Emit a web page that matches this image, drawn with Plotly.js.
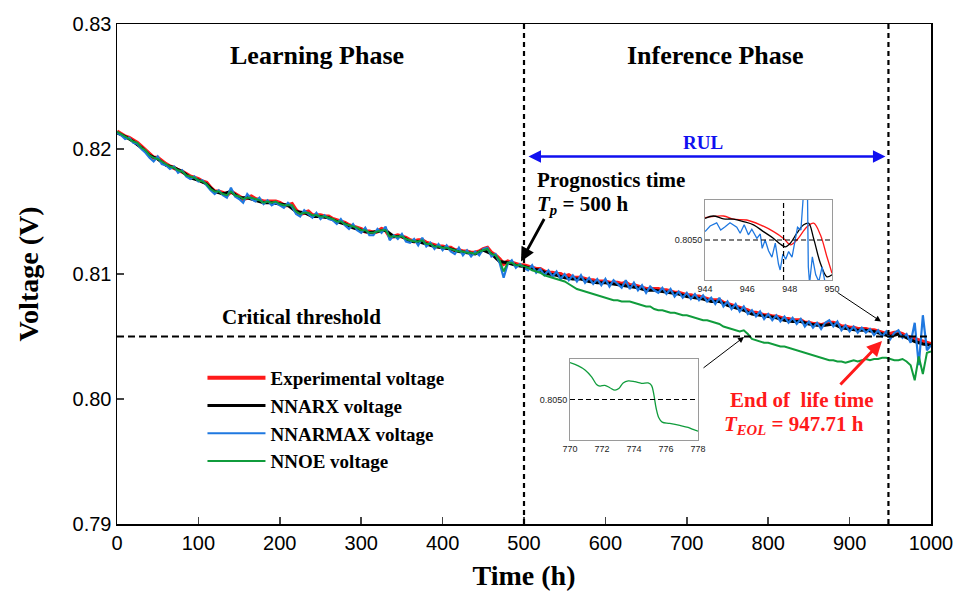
<!DOCTYPE html>
<html><head><meta charset="utf-8">
<script src="https://cdn.plot.ly/plotly-3.0.1.min.js"></script>
<style>html,body{margin:0;padding:0;background:#fff}</style>
</head><body>
<div id="chart" style="width:962px;height:591px"></div>
<script>
// Main series sampled every 5 h (NNARX every 10 h) from 0 to 1000 h
const seriesNames = ["Experimental voltage", "NNARX voltage", "NNARMAX voltage", "NNOE voltage"];
const seriesColors = ["#ff1a1a", "#000000", "#1f78e0", "#109c3c"];

const experimental = [
.8214,.8212,.8210,.8209,.8207,.8205,.8202,.8199,.8196,.8193,.8193,.8190,.8188,.8186,.8185,.8183,.8182,.8180,.8178,.8177,
.8176,.8174,.8173,.8169,.8166,.8166,.8165,.8163,.8166,.8164,.8162,.8160,.8161,.8162,.8160,.8159,.8158,.8158,.8158,.8158,
.8157,.8155,.8155,.8156,.8151,.8148,.8149,.8150,.8147,.8147,.8147,.8146,.8146,.8144,.8143,.8142,.8141,.8139,.8138,.8137,
.8136,.8134,.8134,.8133,.8134,.8136,.8135,.8130,.8130,.8131,.8130,.8129,.8127,.8126,.8127,.8127,.8125,.8124,.8123,.8122,
.8122,.8121,.8121,.8119,.8119,.8118,.8118,.8117,.8117,.8118,.8120,.8121,.8117,.8115,.8112,.8108,.8110,.8109,.8108,.8107,
.8107,.8106,.8105,.8104,.8104,.8102,.8101,.8101,.8100,.8100,.8098,.8099,.8097,.8097,.8097,.8096,.8095,.8095,.8094,.8094,
.8094,.8093,.8093,.8093,.8092,.8093,.8091,.8091,.8090,.8089,.8088,.8088,.8088,.8088,.8087,.8087,.8086,.8085,.8085,.8084,
.8083,.8083,.8082,.8082,.8081,.8080,.8079,.8079,.8079,.8077,.8076,.8075,.8074,.8073,.8072,.8071,.8069,.8069,.8068,.8067,
.8067,.8066,.8066,.8065,.8064,.8064,.8063,.8063,.8063,.8061,.8061,.8060,.8060,.8059,.8060,.8061,.8061,.8060,.8058,.8058,
.8057,.8057,.8056,.8056,.8056,.8055,.8055,.8054,.8053,.8052,.8052,.8053,.8053,.8052,.8050,.8049,.8048,.8047,.8046,.8045,
.8044];

const nnarx = [
.8213,.8210,.8206,.8201,.8195,.8192,.8187,.8185,.8182,.8177,.8175,.8172,.8166,.8164,.8166,.8161,.8161,.8159,.8157,.8157,
.8156,.8155,.8150,.8149,.8146,.8146,.8145,.8142,.8140,.8137,.8135,.8133,.8134,.8135,.8130,.8130,.8126,.8126,.8124,.8122,
.8121,.8120,.8118,.8117,.8116,.8119,.8116,.8110,.8109,.8107,.8106,.8104,.8103,.8100,.8099,.8097,.8096,.8096,.8094,.8093,
.8093,.8092,.8091,.8090,.8089,.8087,.8087,.8086,.8085,.8084,.8082,.8081,.8080,.8078,.8078,.8075,.8073,.8071,.8068,.8067,
.8066,.8065,.8063,.8062,.8062,.8060,.8059,.8059,.8060,.8057,.8056,.8055,.8055,.8054,.8052,.8050,.8052,.8049,.8046,.8044,
.8043];

const nnarmax = [
.8213,.8211,.8208,.8209,.8205,.8204,.8200,.8197,.8193,.8190,.8194,.8188,.8187,.8184,.8186,.8181,.8183,.8178,.8176,.8178,
.8174,.8175,.8171,.8167,.8164,.8167,.8163,.8161,.8169,.8162,.8160,.8157,.8164,.8160,.8158,.8161,.8156,.8159,.8155,.8157,
.8155,.8153,.8157,.8154,.8148,.8146,.8151,.8148,.8145,.8149,.8144,.8147,.8144,.8143,.8140,.8144,.8139,.8136,.8140,.8135,
.8133,.8137,.8131,.8131,.8136,.8133,.8138,.8127,.8131,.8128,.8132,.8126,.8125,.8128,.8123,.8129,.8122,.8125,.8120,.8124,
.8119,.8123,.8118,.8116,.8121,.8115,.8119,.8114,.8118,.8115,.8120,.8121,.8114,.8116,.8109,.8097,.8108,.8111,.8105,.8108,
.8105,.8103,.8107,.8101,.8104,.8099,.8103,.8098,.8102,.8096,.8100,.8095,.8099,.8094,.8099,.8093,.8097,.8092,.8096,.8091,
.8096,.8090,.8095,.8092,.8089,.8095,.8088,.8093,.8087,.8091,.8085,.8090,.8087,.8085,.8089,.8084,.8088,.8082,.8086,.8081,
.8085,.8080,.8084,.8079,.8083,.8078,.8081,.8076,.8081,.8074,.8078,.8072,.8076,.8070,.8074,.8068,.8071,.8066,.8070,.8064,
.8068,.8063,.8067,.8062,.8066,.8061,.8065,.8060,.8064,.8058,.8062,.8057,.8061,.8056,.8061,.8063,.8058,.8062,.8055,.8059,
.8054,.8058,.8053,.8057,.8053,.8056,.8051,.8055,.8050,.8054,.8048,.8053,.8055,.8049,.8052,.8045,.8061,.8027,.8067,.8039,
.8043];

const nnoe = [
.8214,.8212,.8210,.8208,.8206,.8205,.8201,.8199,.8195,.8193,.8192,.8190,.8188,.8186,.8185,.8183,.8182,.8179,.8178,.8177,
.8175,.8174,.8172,.8168,.8166,.8166,.8164,.8163,.8166,.8163,.8162,.8160,.8161,.8161,.8160,.8159,.8157,.8158,.8157,.8158,
.8156,.8155,.8155,.8155,.8150,.8148,.8149,.8149,.8147,.8147,.8146,.8146,.8145,.8144,.8142,.8142,.8140,.8139,.8138,.8137,
.8135,.8135,.8133,.8133,.8134,.8135,.8135,.8130,.8130,.8130,.8130,.8128,.8127,.8126,.8126,.8127,.8124,.8124,.8122,.8122,
.8121,.8121,.8120,.8119,.8118,.8118,.8117,.8117,.8116,.8118,.8119,.8120,.8116,.8115,.8111,.8102,.8109,.8109,.8107,.8107,
.8106,.8105,.8103,.8102,.8101,.8099,.8098,.8097,.8096,.8095,.8094,.8092,.8090,.8088,.8087,.8086,.8085,.8084,.8083,.8082,
.8081,.8080,.8079,.8079,.8078,.8078,.8078,.8077,.8076,.8075,.8074,.8074,.8072,.8071,.8071,.8070,.8069,.8069,.8068,.8067,
.8067,.8066,.8065,.8064,.8063,.8063,.8062,.8061,.8060,.8058,.8057,.8056,.8055,.8054,.8055,.8052,.8048,.8047,.8046,.8045,
.8045,.8044,.8043,.8042,.8042,.8041,.8040,.8039,.8038,.8037,.8036,.8035,.8034,.8033,.8032,.8031,.8031,.8030,.8030,.8029,
.8030,.8031,.8030,.8031,.8032,.8031,.8032,.8032,.8033,.8033,.8032,.8031,.8031,.8032,.8030,.8027,.8015,.8034,.8020,.8037,
.8038];

// Zoom inset 1 (944-950 h)
const inset1ExpT = [944.00,944.87,945.34,945.97,946.61,947.24,947.71,948.03,948.34,948.82,949.13,949.45,949.76,950.00];
const inset1ExpV = [.80556,.80560,.80552,.80550,.80538,.80521,.80504,.80488,.80500,.80533,.80542,.80513,.80458,.80417];
const inset1ArxT = [944.00,944.39,944.87,945.34,945.82,946.29,946.76,947.24,947.55,947.79,948.03,948.34,948.66,948.89,949.13,949.45,949.76,950.00];
const inset1ArxV = [.80554,.80560,.80553,.80552,.80546,.80538,.80521,.80504,.80490,.80483,.80492,.80517,.80538,.80542,.80504,.80442,.80408,.80413];
const inset1ArmaxT = [944.00,944.24,944.55,944.74,944.95,945.18,945.50,945.66,945.85,946.05,946.21,946.45,946.61,946.70,946.84,947.00,947.16,947.32,947.47,947.55,947.68,947.81,947.95,948.11,948.26,948.37,948.53,948.66,948.72,948.78,948.83,948.88,948.94,949.07,949.23,949.38,949.53,949.68];
const inset1ArmaxV = [.80521,.80535,.80543,.80525,.80533,.80543,.80532,.80517,.80538,.80513,.80527,.80504,.80515,.80479,.80500,.80473,.80457,.80492,.80440,.80425,.80465,.80452,.80471,.80457,.80500,.80532,.80525,.80600,.80667,.80617,.80667,.80433,.80392,.80458,.80413,.80396,.80433,.80392];

// Zoom inset 2 (770-778 h)
const inset2OeT = [770.00,770.52,770.94,771.35,771.66,771.87,772.18,772.49,772.81,773.05,773.32,773.64,774.05,774.47,774.88,775.09,775.24,775.38,775.55,775.76,776.23,776.86,777.38,777.69,778.00];
const inset2OeV = [.80591,.80583,.80573,.80556,.80537,.80533,.80535,.80529,.80523,.80527,.80541,.80546,.80544,.80540,.80541,.80535,.80512,.80479,.80455,.80444,.80441,.80436,.80431,.80426,.80422];

const xTicks = [0,100,200,300,400,500,600,700,800,900,1000];
const yTicks = [0.79,0.80,0.81,0.82,0.83];
const threshold = 0.8050, tp = 500, teol = 947.71;

const serif = "Liberation Serif, Times New Roman, serif";
const sans = "Liberation Sans, Arial, sans-serif";

const traces = [
  {y: experimental, x0: 0, dx: 5, name: seriesNames[0], line: {color: seriesColors[0], width: 4}, legendgroup: 'a'},
  {y: nnarx, x0: 0, dx: 10, name: seriesNames[1], line: {color: seriesColors[1], width: 3}, legendgroup: 'b'},
  {y: nnarmax, x0: 0, dx: 5, name: seriesNames[2], line: {color: seriesColors[2], width: 2.2}, legendgroup: 'c'},
  {y: nnoe, x0: 0, dx: 5, name: seriesNames[3], line: {color: seriesColors[3], width: 2}, legendgroup: 'd'},
  {x: inset1ExpT, y: inset1ExpV, xaxis: 'x2', yaxis: 'y2', showlegend: false, line: {color: seriesColors[0], width: 1.3, shape: 'spline'}},
  {x: inset1ArxT, y: inset1ArxV, xaxis: 'x2', yaxis: 'y2', showlegend: false, line: {color: seriesColors[1], width: 1.3, shape: 'spline'}},
  {x: inset1ArmaxT, y: inset1ArmaxV, xaxis: 'x2', yaxis: 'y2', showlegend: false, line: {color: seriesColors[2], width: 1.3}},
  {x: inset2OeT, y: inset2OeV, xaxis: 'x3', yaxis: 'y3', showlegend: false, line: {color: seriesColors[3], width: 1.3, shape: 'spline'}}
].map(t => Object.assign({type: 'scatter', mode: 'lines', hoverinfo: 'skip'}, t));

const insetAxis = (extra) => Object.assign({
  showline: true, mirror: true, linecolor: '#9a9a9a', linewidth: 1,
  showgrid: false, zeroline: false, ticks: '', tickfont: {family: sans, size: 9, color: '#222'}
}, extra);

const layout = {
  width: 962, height: 591,
  margin: {l: 117, r: 31, t: 24, b: 67},
  paper_bgcolor: '#fff', plot_bgcolor: '#fff',
  showlegend: true,
  legend: {x: 0.105, y: 0.33, xanchor: 'left', yanchor: 'top', bgcolor: 'rgba(0,0,0,0)',
           font: {family: serif, size: 19, weight: 'bold', color: '#000'}, itemwidth: 58, tracegroupgap: 0},
  xaxis: {range: [0, 1000], tickvals: xTicks, ticks: 'inside', ticklen: 7, tickwidth: 1.5,
          showline: true, mirror: true, linecolor: '#000', linewidth: 1.5, showgrid: false, zeroline: false,
          tickfont: {family: sans, size: 20, color: '#000'},
          title: {text: 'Time (h)', font: {family: serif, size: 28, weight: 'bold', color: '#000'}, standoff: 13}},
  yaxis: {range: [0.79, 0.83], tickvals: yTicks, tickformat: '.2f', ticks: 'inside', ticklen: 7, tickwidth: 1.5,
          showline: true, mirror: true, linecolor: '#000', linewidth: 1.5, showgrid: false, zeroline: false,
          tickfont: {family: sans, size: 20, color: '#000'},
          title: {text: 'Voltage (V)', font: {family: serif, size: 28, weight: 'bold', color: '#000'}, standoff: 26}},
  xaxis2: insetAxis({domain: [0.7224, 0.8784], anchor: 'y2', range: [944, 950], tickvals: [944, 946, 948, 950]}),
  yaxis2: insetAxis({domain: [0.488, 0.648], anchor: 'x2', range: [0.8040, 0.8060], tickvals: [threshold], ticktext: ['0.8050']}),
  xaxis3: insetAxis({domain: [0.5565, 0.7138], anchor: 'y3', range: [770, 778], tickvals: [770, 772, 774, 776, 778]}),
  yaxis3: insetAxis({domain: [0.168, 0.33], anchor: 'x3', range: [0.8040, 0.8060], tickvals: [threshold], ticktext: ['0.8050']}),
  shapes: [
    {type: 'line', xref: 'x', yref: 'y', x0: tp, x1: tp, y0: 0.79, y1: 0.83, line: {color: '#000', width: 2.2, dash: '5px,4px'}},
    {type: 'line', xref: 'x', yref: 'y', x0: teol, x1: teol, y0: 0.79, y1: 0.83, line: {color: '#000', width: 2.2, dash: '5px,4px'}},
    {type: 'line', xref: 'x', yref: 'y', x0: 0, x1: 1000, y0: threshold, y1: threshold, line: {color: '#000', width: 2, dash: '7px,4px'}},
    {type: 'line', xref: 'x2', yref: 'y2', x0: 944, x1: 950, y0: threshold, y1: threshold, line: {color: '#000', width: 1.2, dash: '5px,3px'}},
    {type: 'line', xref: 'x2', yref: 'y2', x0: teol, x1: teol, y0: 0.8040, y1: 0.8060, line: {color: '#000', width: 1.2, dash: '5px,3px'}},
    {type: 'line', xref: 'x3', yref: 'y3', x0: 770, x1: 778, y0: threshold, y1: threshold, line: {color: '#000', width: 1.2, dash: '5px,3px'}}
  ],
  annotations: [
    {x: 245.7, y: 0.8275, xref: 'x', yref: 'y', text: '<b>Learning Phase</b>', showarrow: false, font: {family: serif, size: 26, color: '#000'}},
    {x: 734.6, y: 0.8275, xref: 'x', yref: 'y', text: '<b>Inference Phase</b>', showarrow: false, font: {family: serif, size: 26, color: '#000'}},
    {x: 227, y: 0.8066, xref: 'x', yref: 'y', text: '<b>Critical threshold</b>', showarrow: false, font: {family: serif, size: 21, color: '#000'}},
    {x: 719.9, y: 0.8205, xref: 'x', yref: 'y', text: '<b>RUL</b>', showarrow: false, font: {family: serif, size: 19, color: '#1010f0'}},
    {x: 513.5, y: 0.8175, xref: 'x', yref: 'y', xanchor: 'left', text: '<b>Prognostics time</b>', showarrow: false, font: {family: serif, size: 21, color: '#000'}},
    {x: 513.5, y: 0.8155, xref: 'x', yref: 'y', xanchor: 'left', text: '<b><i>T</i><sub><i>p</i></sub> = 500 h</b>', showarrow: false, font: {family: serif, size: 21, color: '#000'}},
    {x: 840.3, y: 0.7999, xref: 'x', yref: 'y', text: '<b>End of&nbsp; life time</b>', showarrow: false, font: {family: serif, size: 21, color: '#ff1a1a'}},
    {x: 831.7, y: 0.7979, xref: 'x', yref: 'y', text: '<b><i>T</i><sub><i>EOL</i></sub> = 947.71 h</b>', showarrow: false, font: {family: serif, size: 21, color: '#ff1a1a'}},
    {x: teol, y: 0.8194, ax: tp, ay: 0.8194, xref: 'x', yref: 'y', axref: 'x', ayref: 'y', text: '', showarrow: true,
     arrowside: 'end+start', arrowhead: 2, arrowsize: 1, arrowwidth: 2.5, arrowcolor: '#1010f0', standoff: 3, startstandoff: 3},
    {x: 496.3, y: 0.8110, xref: 'x', yref: 'y', ax: 24, ay: -44, text: '', showarrow: true, arrowhead: 2, arrowsize: 1, arrowwidth: 2.8, arrowcolor: '#000'},
    {x: 938.6, y: 0.8062, xref: 'x', yref: 'y', ax: -45, ay: -30, text: '', showarrow: true, arrowhead: 2, arrowsize: 1.2, arrowwidth: 1, arrowcolor: '#000'},
    {x: 770.3, y: 0.80496, xref: 'x', yref: 'y', ax: -42, ay: 32, text: '', showarrow: true, arrowhead: 2, arrowsize: 1.2, arrowwidth: 1, arrowcolor: '#000'},
    {x: 939.8, y: 0.80464, xref: 'x', yref: 'y', ax: -43, ay: 45, text: '', showarrow: true, arrowhead: 2, arrowsize: 1, arrowwidth: 3, arrowcolor: '#ff1a1a'}
  ]
};

Plotly.newPlot('chart', traces, layout, {displayModeBar: false, staticPlot: true});
</script>
</body></html>
